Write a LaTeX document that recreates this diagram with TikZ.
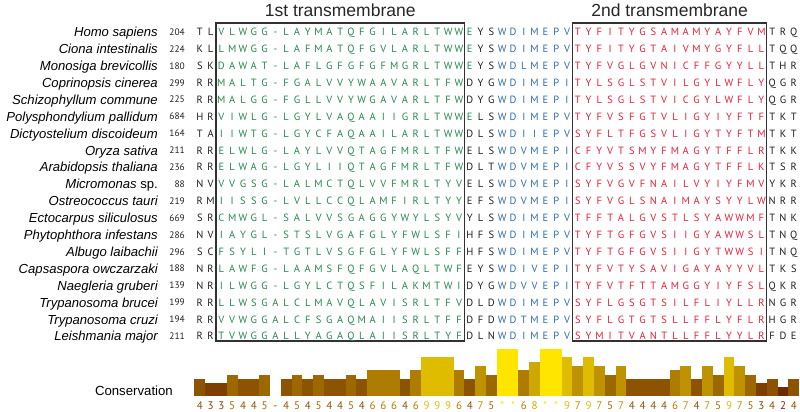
\documentclass[tikz,border=0pt]{standalone}
\usepackage{fontspec}
\setmainfont{Liberation Sans}
\newfontfamily\resfont{PT Sans}
\usepackage{tikz}
\usetikzlibrary{positioning}

\definecolor{tmgreen}{RGB}{38,135,78}
\definecolor{loopblue}{RGB}{46,108,168}
\definecolor{tmred}{RGB}{228,32,58}
\definecolor{resblack}{RGB}{30,30,30}
\definecolor{boxgray}{RGB}{50,50,50}

% one residue per column, 10.8 px apart, rows 16.9 px apart
\newcounter{rescol}
\newcommand\resnext[1]{%
  \ifx\relax#1\else
    \node[res,resnow] (r\resrowidx-\therescol) at ({189+10.8*\therescol},{32+16.9*\resrowidx}) {#1};%
    \stepcounter{rescol}%
    \expandafter\resnext
  \fi}
\newcommand\resseg[2]{\tikzset{resnow/.style={#1}}\resnext#2\relax}
\newcommand\alnrow[9]{%
  \def\resrowidx{#1}\setcounter{rescol}{1}%
  \node[species] (sp#1) at (158,{32+16.9*#1}) {#2};
  \node[seqnum] (num#1) at (185,{32+16.9*#1}) {#3};
  \resseg{blackres}{#4}\resseg{tmone}{#5}\resseg{blackres}{#6}%
  \resseg{loopres}{#7}\resseg{tmtwo}{#8}\resseg{blackres}{#9}}

\begin{document}
\begin{tikzpicture}[
    x=1pt, y=-1pt,
    res/.style={inner sep=0pt, text height=7.4pt, text depth=0pt, font=\resfont\fontsize{10.5}{12}\selectfont},
    blackres/.style={text=resblack},
    tmone/.style={text=tmgreen},
    loopres/.style={text=loopblue},
    tmtwo/.style={text=tmred},
    species/.style={anchor=east, inner sep=0pt, text height=9.4pt, text depth=0pt, font=\itshape\fontsize{13.1}{15}\selectfont},
    seqnum/.style={anchor=east, inner sep=0pt, text height=6.6pt, text depth=0pt, font=\resfont\fontsize{9.4}{11}\selectfont, text=resblack},
    tmbox/.style={draw=boxgray, line width=1.2pt, inner sep=0pt, outer sep=0pt},
    tmtitle/.style={inner sep=0pt, outer sep=0pt, font=\fontsize{17.5}{20}\selectfont, text=black!85},
    conslabel/.style={anchor=east, inner sep=0pt, text height=9.5pt, text depth=0pt, font=\fontsize{13.2}{15}\selectfont},
    consdig/.style={inner sep=0pt, text height=7.6pt, text depth=0pt, font=\resfont\fontsize{11}{13}\selectfont}
]
\useasboundingbox (0,0) rectangle (800,412);

% --- Transmembrane boxes ---
\node[tmbox, minimum width=248.4pt, minimum height=318pt] (tm1) at (340.2,182) {};
\node[tmbox, minimum width=194.4pt, minimum height=318pt] (tm2) at (669.6,182) {};
\node[tmtitle, above=6pt of tm1] (tm1title) {1st transmembrane};
\node[tmtitle, above=6pt of tm2] (tm2title) {2nd transmembrane};

% --- Alignment rows ---
\alnrow{0}{Homo sapiens}{204}{TL}{VLWGG-LAYMATQFGILARLTWWE}{YS}{WDIMEPV}{TYFITYGSAMAMYAYFVM}{TRQ}
\alnrow{1}{Ciona intestinalis}{224}{KL}{LMWGG-LAFMATQFGVLARLTWWE}{YS}{WDIMEPV}{TYFITYGTAIVMYGYFLL}{TQQ}
\alnrow{2}{Monosiga brevicollis}{180}{SK}{DAWAT-LAFLGFGFGFMGRLTWWE}{YS}{WDLMEPV}{TYFVGLGVNICFFGYYLL}{THR}
\alnrow{3}{Coprinopsis cinerea}{299}{RR}{MALTG-FGALVVYWAAVARLTFW}{DYG}{WDIMEPI}{TYLSGLSTVILGYLWFLY}{QGR}
\alnrow{4}{Schizophyllum commune}{225}{RR}{MALGG-FGLLVVYWGAVARLTFW}{DYG}{WDIMEPI}{TYLSGLSTVICGYLWFLY}{QGR}
\alnrow{5}{Polysphondylium pallidum}{684}{HR}{VIWLG-LGYLVAQAAIIGRLTWWE}{LS}{WDIMEPV}{TYFVSFGTVLIGYIYFTF}{TKT}
\alnrow{6}{Dictyostelium discoideum}{164}{TA}{IIWTG-LGYCFAQAAILARLTWW}{DLS}{WDIIEPV}{SYFLTFGSVLIGYTYFTM}{TKT}
\alnrow{7}{Oryza sativa}{211}{RR}{ELWLG-LAYLVVQTAGFMRLTFW}{ELS}{WDVMEPI}{CFYVTSMYFMAGYTFFLR}{TKK}
\alnrow{8}{Arabidopsis thaliana}{236}{RR}{ELWAG-LGYLIIQTAGFMRLTFW}{DLT}{WDVMEPI}{CFYVSSVYFMAGYTFFLK}{TSR}
\alnrow{9}{Micromonas {\upshape sp.}}{88}{NV}{VVGSG-LALMCTQLVVFMRLTYV}{ELS}{WDVMEPI}{SYFVGVFNAILVYIYFMV}{YKR}
\alnrow{10}{Ostreococcus tauri}{219}{RM}{IISSG-LVLLCCQLAMFIRLTYY}{EFS}{WDVMEPI}{SYFVGLSNAIMAYSYYLW}{NRR}
\alnrow{11}{Ectocarpus siliculosus}{669}{SR}{CMWGL-SALVVSGAGGYWYLSYV}{YLS}{WDIMEPV}{TFFTALGVSTLSYAWWMF}{TNK}
\alnrow{12}{Phytophthora infestans}{286}{NV}{IAYGL-STSLVGAFGLYFWLSFI}{HFS}{WDIMEPV}{TYFTGFGVSIIGYAWWSL}{TNQ}
\alnrow{13}{Albugo laibachii}{296}{SC}{FSYLI-TGTLVSGFGLYFWLSFF}{HFS}{WDIMEPV}{TYFTGFGVSIIGYTWWSI}{TNQ}
\alnrow{14}{Capsaspora owczarzaki}{188}{NR}{LAWFG-LAAMSFQFGVLAQLTWF}{EYS}{WDIVEPI}{TYFVTYSAVIGAYAYYVL}{TKS}
\alnrow{15}{Naegleria gruberi}{139}{NR}{ILWGG-LGYLCTQSFILAKMTWI}{DYG}{WDVVEPI}{TYFVTFTTAMGGYIYFSL}{QKR}
\alnrow{16}{Trypanosoma brucei}{199}{RR}{LLWSGALCLMAVQLAVISRLTFV}{DLD}{WDIMEPV}{SYFLGSGTSILFLIYLLR}{NGR}
\alnrow{17}{Trypanosoma cruzi}{194}{RR}{VVWGGALCFSGAQMAIISRLTFF}{DFD}{WDTMEPV}{SYFLGTGTSLLFFLYFLR}{HGR}
\alnrow{18}{Leishmania major}{211}{RR}{TVWGGALLYAGAQLAIISRLTYF}{DLN}{WDIMEPV}{SYMITVANTLLFFLYYLR}{FDE}

% --- Conservation track ---
\node[conslabel] (conslbl) at (173,391) {Conservation};
\def\starmark{*}\def\gapmark{-}
\foreach \s [count=\c] in {4,3,3,5,4,4,5,-,4,5,4,5,4,4,5,4,6,6,6,4,6,9,9,9,6,4,7,5,*,*,6,8,*,*,9,7,9,7,5,7,4,4,4,4,6,7,4,7,5,9,7,5,3,4,2,4}{
  \ifx\s\starmark \def\cscore{11}\else\ifx\s\gapmark \def\cscore{0}\else \let\cscore\s\fi\fi
  \ifx\s\gapmark \def\cshade{4}\else \let\cshade\cscore\fi
  \pgfmathsetmacro\barr{0.3+0.7*\cshade/11}
  \pgfmathsetmacro\barg{0.9*\cshade/11}
  \definecolor{consc}{rgb}{\barr,\barg,0}
  \ifx\s\gapmark\else
    \fill[consc] ({183.6+10.8*\c},396) rectangle ++(10.8,{-4.3*\cscore});
  \fi
  \node[consdig, text=consc] (cons\c) at ({189+10.8*\c},405.5) {\s};
}
\end{tikzpicture}
\end{document}
